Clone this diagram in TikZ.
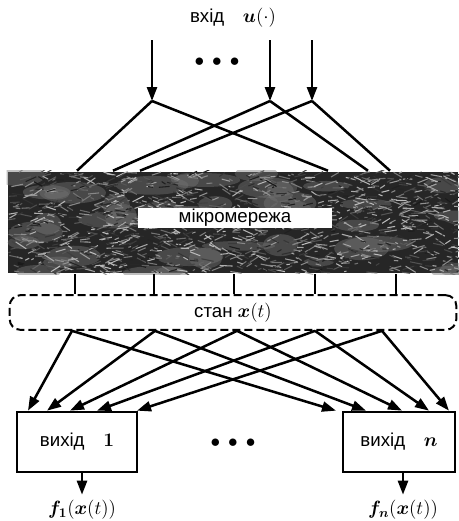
\documentclass[tikz,border=0pt]{standalone}
\usepackage{fontspec}
\setmainfont{Liberation Sans}
\usepackage{bm}
\usetikzlibrary{arrows.meta}

\begin{document}
\begin{tikzpicture}[x=0.75pt,y=-0.75pt,line width=1.9pt,
  every node/.style={font=\fontsize{14}{16}\selectfont},
  arr/.style={-{Triangle[length=10.5pt,width=7.5pt]}},
  outbox/.style={draw,line width=2pt,fill=white,minimum height=45pt}]
  \useasboundingbox (0,0) rectangle (459,521);
  % input
  \node (title) at (233,18) {вхід\quad $\bm{u}(\cdot)$};
  \node (dotsin) at (217,62) {$\bullet$\hspace{6pt}$\bullet$\hspace{6pt}$\bullet$};
  \foreach \x [count=\i] in {152,270,312} {
    \coordinate (s\i) at (\x,40);
    \coordinate (a\i) at (\x,101);
    \draw[arr] (s\i) -- (a\i);
  }
  % micro network block
  \node[fill=black!85,minimum width=337.5pt,minimum height=75.75pt,inner sep=0pt] (net) at (233,222.5) {};
  \pgfmathsetseed{42}
  \begin{scope}
    \clip (net.south west) rectangle (net.north east);
    % light patches
    \foreach \i in {1,...,45} {
      \pgfmathsetmacro{\px}{8+450*rnd}
      \pgfmathsetmacro{\py}{172+101*rnd}
      \pgfmathsetmacro{\pw}{12+25*rnd}
      \pgfmathsetmacro{\ph}{4+8*rnd}
      \fill[black!55,opacity=0.45] (\px,\py) ellipse ({\pw*0.75pt} and {\ph*0.75pt});
    }
    \foreach \i in {1,...,1400} {
      \pgfmathsetmacro{\px}{8+450*rnd}
      \pgfmathsetmacro{\py}{172+101*rnd}
      \pgfmathsetmacro{\pl}{2+11*rnd}
      \pgfmathsetmacro{\pa}{-35+70*rnd}
      \pgfmathsetmacro{\pg}{10+65*rnd}
      \draw[line width=0.8pt,white!\pg!black] (\px,\py) -- ++(\pa:\pl);
    }
  \end{scope}
  \node[fill=white,minimum width=146pt,minimum height=15pt,inner sep=0pt] (netlbl) at (235,218) {мікромережа};
  \foreach \i/\l/\r in {1/77/328, 2/113/368, 3/140/390} {
    \draw (a\i) -- (net.north -| \l,0);
    \draw (a\i) -- (net.north -| \r,0);
  }
  % state
  \node[draw,rounded corners=8pt,line width=1.5pt,dash pattern=on 6pt off 3pt,
    minimum width=335pt,minimum height=26pt] (state) at (233,312.5) {стан $\bm{x}(t)$};
  \foreach \x in {75,154,234,315,396}
    \draw[line width=1.4pt] (net.south -| \x,0) -- (state.north -| \x,0);
  % outputs
  \node[outbox,minimum width=90pt] (out1) at (77,442) {вихід\quad $\bm{1}$};
  \node[outbox,minimum width=84pt] (outn) at (399,442) {вихід\quad $\bm{n}$};
  \node (dotsout) at (233,443) {$\bullet$\hspace{6pt}$\bullet$\hspace{6pt}$\bullet$};
  \foreach \s/\l/\r in {72/28/336, 155/47/366, 237/70/402, 315/97/429, 382/137/449} {
    \draw[arr] (state.south -| \s,0) -- (out1.north -| \l,0);
    \draw[arr] (state.south -| \s,0) -- (outn.north -| \r,0);
  }
  \node (f1) at (82,510) {$\bm{f_1}(\bm{x}(t))$};
  \node (fn) at (403,510) {$\bm{f_n}(\bm{x}(t))$};
  \draw[arr] (out1.south -| f1) -- (f1.north);
  \draw[arr] (outn.south -| fn) -- (fn.north);
\end{tikzpicture}
\end{document}
